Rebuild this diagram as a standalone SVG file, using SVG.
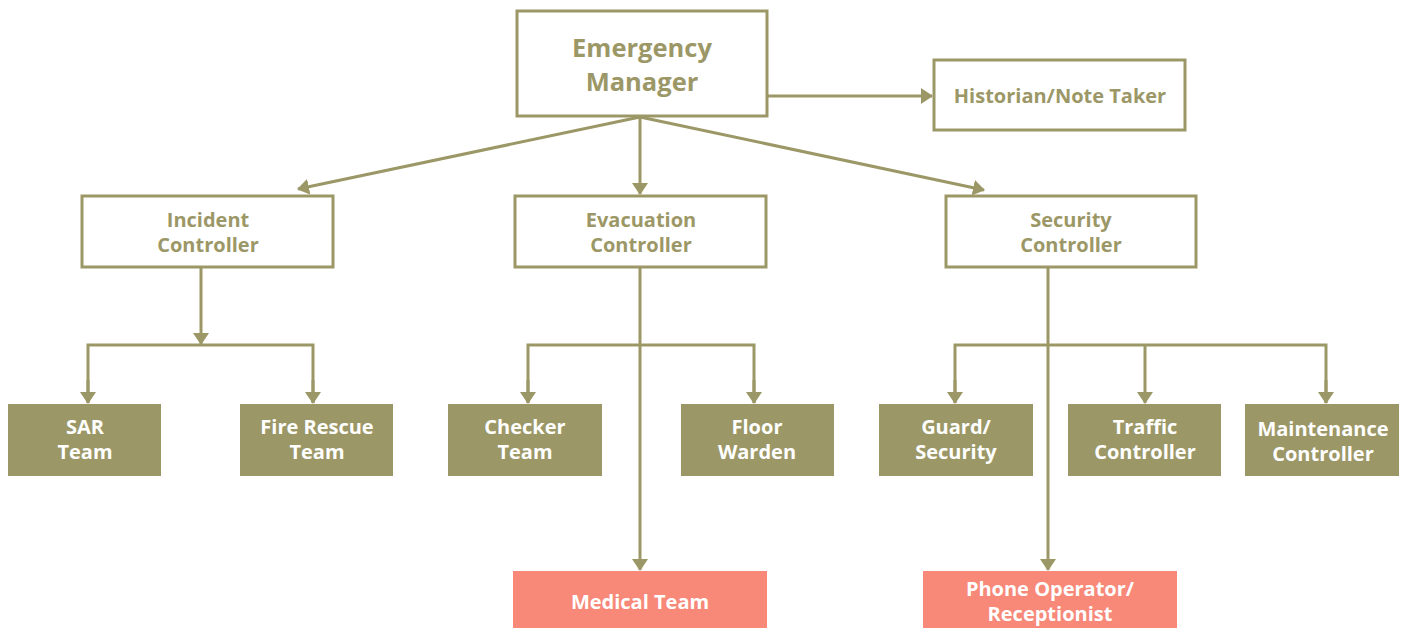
<svg xmlns="http://www.w3.org/2000/svg" width="1405" height="628" viewBox="0 0 1405 628">
<style>
.ob{fill:#fff;stroke:#9c9766;stroke-width:3}
.fb{fill:#9c9766}
.sb{fill:#f88878}
.t{font-family:"Open Sans",Lato,"Liberation Sans",sans-serif;font-weight:bold;text-anchor:middle}
.to{fill:#9c9766;font-size:20px}
.tw{fill:#fff;font-size:20px}
.c{fill:none;stroke:#9c9766;stroke-width:3}
</style>
<defs>
<marker id="ah" viewBox="0 0 12 16" refX="11" refY="8" markerWidth="12" markerHeight="16" markerUnits="userSpaceOnUse" orient="auto">
<path d="M0,0 L12,8 L0,16 z" fill="#9c9766"/>
</marker>
</defs>
<rect width="1405" height="628" fill="#fff"/>
<g id="connectors">
<path class="c" d="M767,96 L932,96" marker-end="url(#ah)"/>
<path class="c" d="M640,117 L298,189" marker-end="url(#ah)"/>
<path class="c" d="M640,117 L640,194" marker-end="url(#ah)"/>
<path class="c" d="M640,117 L984,190" marker-end="url(#ah)"/>
<path class="c" d="M201,267 L201,344" marker-end="url(#ah)"/>
<path class="c" d="M88,403 V345 H313 V403"/>
<path class="c" d="M88,380 V403" marker-end="url(#ah)"/>
<path class="c" d="M313,380 V403" marker-end="url(#ah)"/>
<path class="c" d="M640,267 V570" marker-end="url(#ah)"/>
<path class="c" d="M528,403 V345 H754 V403"/>
<path class="c" d="M528,380 V403" marker-end="url(#ah)"/>
<path class="c" d="M754,380 V403" marker-end="url(#ah)"/>
<path class="c" d="M1048,267 V570" marker-end="url(#ah)"/>
<path class="c" d="M955,403 V345 H1326 V403"/>
<path class="c" d="M1145,345 V403" marker-end="url(#ah)"/>
<path class="c" d="M955,380 V403" marker-end="url(#ah)"/>
<path class="c" d="M1326,380 V403" marker-end="url(#ah)"/>
</g>
<g id="emergency-manager">
<rect class="ob" x="517" y="11" width="250" height="105"/>
<text class="t" fill="#9c9766" font-size="25.5" x="642" y="57">Emergency</text>
<text class="t" fill="#9c9766" font-size="25.5" x="642" y="91">Manager</text>
</g>
<g id="historian">
<rect class="ob" x="934" y="60" width="251" height="70"/>
<text class="t" fill="#9c9766" font-size="20" x="1060" y="103">Historian/Note Taker</text>
</g>
<g id="incident-controller">
<rect class="ob" x="82" y="196" width="251" height="71"/>
<text class="t to" x="208" y="227">Incident</text>
<text class="t to" x="208" y="252">Controller</text>
</g>
<g id="evacuation-controller">
<rect class="ob" x="515" y="196" width="251" height="71"/>
<text class="t to" x="641" y="227">Evacuation</text>
<text class="t to" x="641" y="252">Controller</text>
</g>
<g id="security-controller">
<rect class="ob" x="946" y="196" width="250" height="71"/>
<text class="t to" x="1071" y="227">Security</text>
<text class="t to" x="1071" y="252">Controller</text>
</g>
<g id="sar-team">
<rect class="fb" x="8" y="404" width="153" height="72"/>
<text class="t tw" x="85" y="434">SAR</text>
<text class="t tw" x="85" y="459">Team</text>
</g>
<g id="fire-rescue-team">
<rect class="fb" x="240" y="404" width="153" height="72"/>
<text class="t tw" x="317" y="434">Fire Rescue</text>
<text class="t tw" x="317" y="459">Team</text>
</g>
<g id="checker-team">
<rect class="fb" x="448" y="404" width="154" height="72"/>
<text class="t tw" x="525" y="434">Checker</text>
<text class="t tw" x="525" y="459">Team</text>
</g>
<g id="floor-warden">
<rect class="fb" x="681" y="404" width="153" height="72"/>
<text class="t tw" x="757" y="434">Floor</text>
<text class="t tw" x="757" y="459">Warden</text>
</g>
<g id="guard-security">
<rect class="fb" x="879" y="404" width="154" height="72"/>
<text class="t tw" x="956" y="434">Guard/</text>
<text class="t tw" x="956" y="459">Security</text>
</g>
<g id="traffic-controller">
<rect class="fb" x="1068" y="404" width="153" height="72"/>
<text class="t tw" x="1145" y="434">Traffic</text>
<text class="t tw" x="1145" y="459">Controller</text>
</g>
<g id="maintenance-controller">
<rect class="fb" x="1245" y="404" width="154" height="72"/>
<text class="t tw" x="1323" y="436">Maintenance</text>
<text class="t tw" x="1323" y="461">Controller</text>
</g>
<g id="medical-team">
<rect class="sb" x="513" y="571" width="254" height="57"/>
<text class="t tw" x="640" y="609">Medical Team</text>
</g>
<g id="phone-operator">
<rect class="sb" x="923" y="571" width="254" height="57"/>
<text class="t tw" x="1050" y="596">Phone Operator/</text>
<text class="t tw" x="1050" y="621">Receptionist</text>
</g>
</svg>
